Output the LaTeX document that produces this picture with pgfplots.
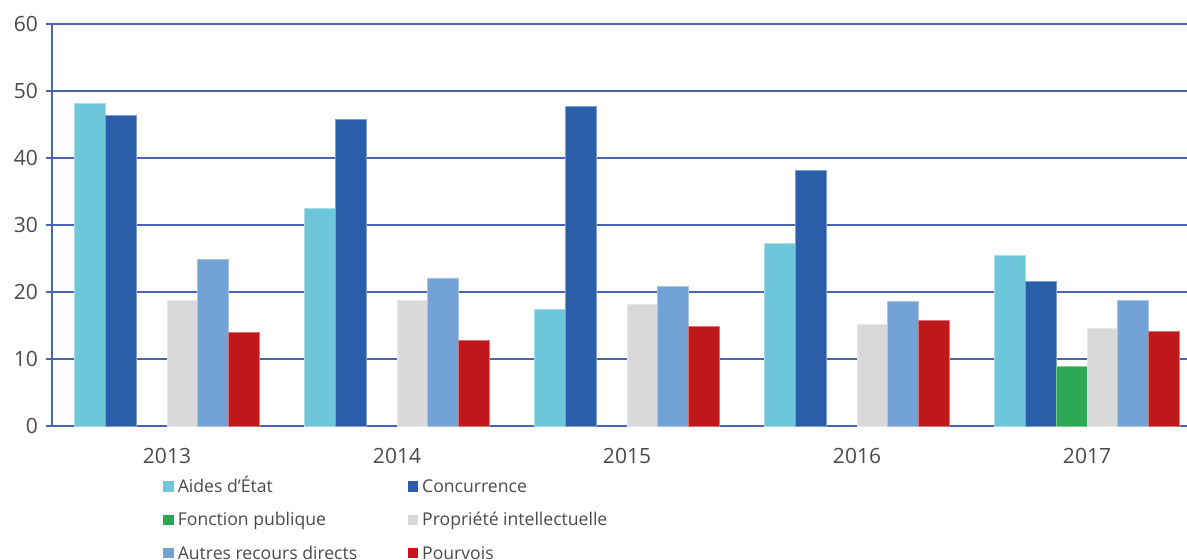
\documentclass[border=0pt]{standalone}
\usepackage{pgfplots}
\pgfplotsset{compat=1.18}
\usepackage{fontspec}
\setmainfont{Open Sans}
\definecolor{cAides}{HTML}{6EC6DA}
\definecolor{cConc}{HTML}{2B5EA8}
\definecolor{cFonc}{HTML}{2AA854}
\definecolor{cProp}{HTML}{D9D9D9}
\definecolor{cAutres}{HTML}{73A2D6}
\definecolor{cPourv}{HTML}{C0181A}
\definecolor{cGrid}{HTML}{4A64AE}
\definecolor{cText}{HTML}{4A4A4A}
\begin{document}
\begin{tikzpicture}
\begin{axis}[
  at={(0,0)}, anchor=south west,
  scale only axis, width=567.5pt, height=201pt,
  ybar=0pt, bar width=0.134,
  xmin=-0.5, xmax=4.4348, ymin=0, ymax=60,
  axis x line=bottom, axis y line=left,
  axis line style={cGrid, line width=0.75pt, -},
  ytick={0,10,...,60},
  ymajorgrids, grid style={cGrid, line width=0.75pt},
  xtick={0,1,2,3,4}, xticklabels={2013,2014,2015,2016,2017},
  minor xtick={-0.5,0.5,1.5,2.5,3.5},
  tick align=outside,
  major tick length=3pt,
  x tick style={draw=none},
  minor x tick style={cGrid, line width=0.75pt},
  minor tick length=4pt,
  y tick style={cGrid, line width=0.75pt},
  every tick label/.append style={font=\fontsize{10.5}{12}\selectfont, text=cText},
  /pgf/number format/assume math mode=true,
  xticklabel style={yshift=-4.5pt},
  yticklabel style={xshift=-0.5pt},
  clip=false,
  legend columns=2,
  legend style={draw=none, fill=none, inner sep=0pt, at={(0.0978,-0.112)}, anchor=north west,
    font=\fontsize{8.8}{10}\selectfont, text=cText, row sep=1.75pt,
    nodes={text height=1.6ex, text depth=0.45ex},
    /tikz/every odd column/.append style={column sep=0pt}},
  legend image code/.code={\fill[#1, draw=none] (0pt,-2.6pt) rectangle (5.2pt,2.6pt);},
]
\addplot[fill=cAides, draw=cAides!60!white, line width=0.4pt] coordinates {(0,48.1) (1,32.5) (2,17.4) (3,27.2) (4,25.5)};
\addplot[fill=cConc, draw=cConc!60!white, line width=0.4pt] coordinates {(0,46.4) (1,45.8) (2,47.7) (3,38.2) (4,21.6)};
\addplot[fill=cFonc, draw=cFonc!60!white, line width=0.4pt] coordinates {(4,8.9)};
\addplot[fill=cProp, draw=cProp!60!white, line width=0.4pt] coordinates {(0,18.7) (1,18.7) (2,18.1) (3,15.1) (4,14.5)};
\addplot[fill=cAutres, draw=cAutres!60!white, line width=0.4pt] coordinates {(0,24.9) (1,22.1) (2,20.8) (3,18.6) (4,18.7)};
\addplot[fill=cPourv, draw=cPourv!60!white, line width=0.4pt] coordinates {(0,13.9) (1,12.8) (2,14.8) (3,15.8) (4,14.1)};
\legend{\makebox[113pt][l]{Aides d’État}, \makebox[113pt][l]{Concurrence}, \makebox[113pt][l]{Fonction publique}, \makebox[113pt][l]{Propriété intellectuelle}, \makebox[113pt][l]{Autres recours directs}, \makebox[113pt][l]{Pourvois}}
\end{axis}
\pgfresetboundingbox
\path[use as bounding box] (-26pt,-67pt) rectangle (567.5pt,213pt);
\end{tikzpicture}
\end{document}
